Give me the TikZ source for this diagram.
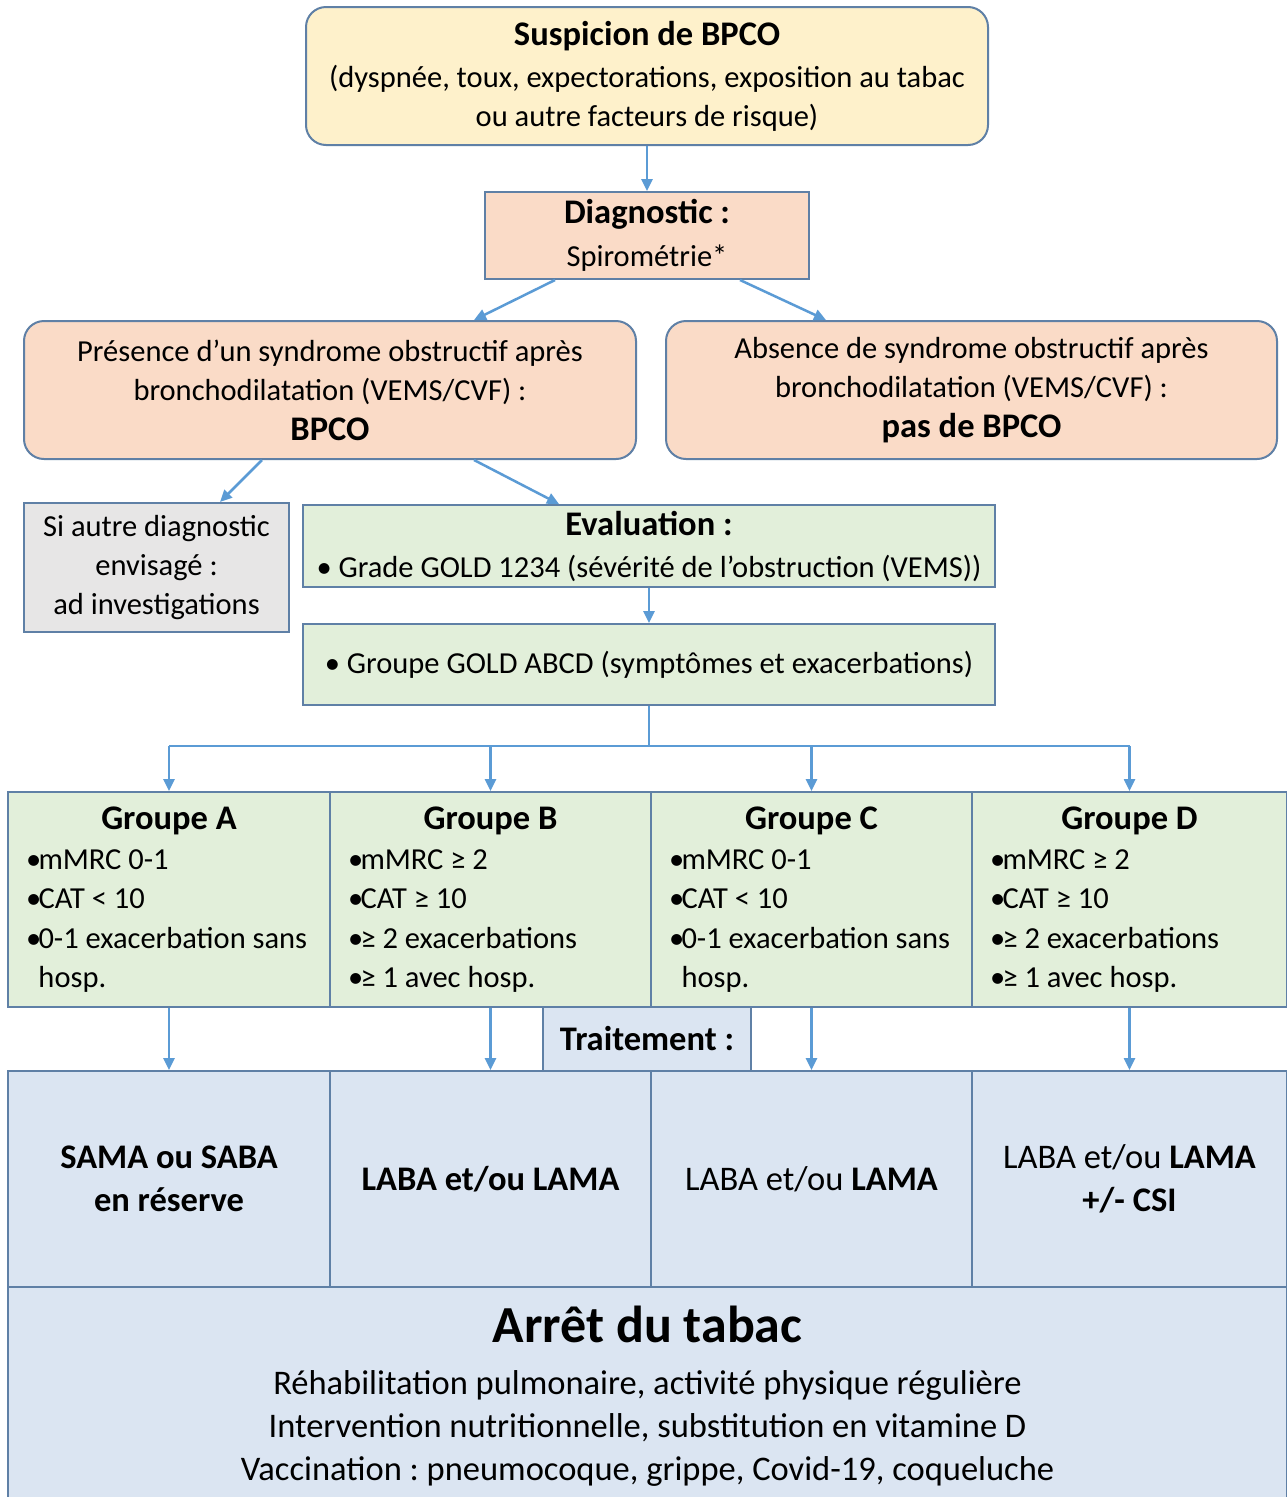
\documentclass[tikz,border=0pt]{standalone}
\usepackage{fontspec}
\setmainfont{Carlito}
\usetikzlibrary{arrows.meta}
\frenchspacing
\definecolor{bordc}{HTML}{5F80A6}
\definecolor{arrc}{HTML}{5B9BD5}
\definecolor{yel}{HTML}{FEF1CB}
\definecolor{pch}{HTML}{FADBC7}
\definecolor{gry}{HTML}{E7E6E6}
\definecolor{grn}{HTML}{E2EFDA}
\definecolor{blu}{HTML}{DBE5F2}
\newcommand\tsize{\fontsize{34.5}{40}\selectfont\bfseries}
\newcommand\gtitle[2]{\spaceskip=0pt\xspaceskip=0pt\makebox[#1][c]{\tsize #2}\\[1pt]}
\newcommand\gb{\makebox[12.5pt][l]{•}}
\newcommand\gh{\hspace*{12.5pt}}
\tikzset{
  box/.style={draw=bordc, line width=2pt, inner sep=0pt, align=center,
    font=\fontsize{30.5}{39}\selectfont},
  rbox/.style={box, rounded corners=20pt},
  grp/.style={draw=bordc, line width=2pt, inner sep=0pt, fill=grn, align=flush left,
    minimum width=#1, minimum height=215pt, text width=#1-36pt,
    font=\fontsize{30.5}{39.3}\selectfont},
  trt/.style={draw=bordc, line width=2pt, inner sep=0pt, fill=blu, align=center,
    minimum width=#1, minimum height=216pt, font=\fontsize{34.5}{43}\selectfont},
  arr/.style={draw=arrc, line width=2.5pt, -{Triangle[width=11pt,length=12pt]}},
  ln/.style={draw=arrc, line width=2.5pt}
}
\begin{document}
\begin{tikzpicture}[x=1pt,y=-1pt]
\useasboundingbox (0,0) rectangle (1287,1497);
\fill[white] (0,0) rectangle (1287,1497);

\node[rbox, fill=yel, minimum width=682pt, minimum height=138pt] (sus) at (647,76)
  {{\tsize Suspicion de BPCO}\\[3pt](dyspnée, toux, expectorations, exposition au tabac\\ou autre facteurs de risque)};
\node[box, fill=pch, minimum width=324pt, minimum height=87pt, font=\fontsize{30.5}{43}\selectfont] (diag) at (647,235.5)
  {{\tsize Diagnostic :}\\Spirométrie*};
\node[rbox, fill=pch, minimum width=612pt, minimum height=138pt] (pres) at (330,390)
  {Présence d’un syndrome obstructif après\\bronchodilatation (VEMS/CVF) :\\[1pt]{\tsize BPCO}};
\node[rbox, fill=pch, minimum width=611pt, minimum height=138pt] (abs) at (971.5,390)
  {Absence de syndrome obstructif après\\bronchodilatation (VEMS/CVF) :\\[1pt]{\tsize pas de BPCO}};
\node[box, fill=gry, minimum width=265pt, minimum height=129pt] (autre) at (156.5,567.5)
  {Si autre diagnostic\\envisagé :\\ad investigations};
\node[box, fill=grn, minimum width=692pt, minimum height=82pt, font=\fontsize{30.5}{42}\selectfont] (eval) at (649,546)
  {{\tsize Evaluation :}\\• Grade GOLD 1234 (sévérité de l’obstruction (VEMS))};
\node[box, fill=grn, minimum width=692pt, minimum height=81pt] (gold) at (649,664.5)
  {• Groupe GOLD ABCD (symptômes et exacerbations)};

\node[grp=322pt] (gA) at (169,899.5)
  {\gtitle{286pt}{Groupe A}\gb mMRC 0-1\\\gb CAT < 10\\\gb \mbox{0-1 exacerbation sans}\\\gh hosp.};
\node[grp=321pt] (gB) at (490.5,899.5)
  {\gtitle{285pt}{Groupe B}\gb mMRC ≥ 2\\\gb CAT ≥ 10\\\gb ≥ 2 exacerbations\\\gb ≥ 1 avec hosp.};
\node[grp=321pt] (gC) at (811.5,899.5)
  {\gtitle{285pt}{Groupe C}\gb mMRC 0-1\\\gb CAT < 10\\\gb \mbox{0-1 exacerbation sans}\\\gh hosp.};
\node[grp=315pt] (gD) at (1129.5,899.5)
  {\gtitle{279pt}{Groupe D}\gb mMRC ≥ 2\\\gb CAT ≥ 10\\\gb ≥ 2 exacerbations\\\gb ≥ 1 avec hosp.};

\node[trt=322pt] (tA) at (169,1179) {\textbf{SAMA ou SABA}\\\textbf{en réserve}};
\node[trt=321pt] (tB) at (490.5,1179) {\textbf{LABA et/ou LAMA}};
\node[trt=321pt] (tC) at (811.5,1179) {LABA et/ou \textbf{LAMA}};
\node[trt=315pt] (tD) at (1129.5,1179) {LABA et/ou \textbf{LAMA}\\\textbf{+/- CSI}};

\node[box, fill=blu, minimum width=208pt, minimum height=64pt] (trait) at (647,1039) {\tsize Traitement :};

\node[box, fill=blu, minimum width=1279pt, minimum height=218pt, font=\fontsize{34.5}{43}\selectfont] (arret) at (647.5,1396)
  {{\fontsize{52}{56}\selectfont\bfseries Arrêt du tabac}\\[9pt]Réhabilitation pulmonaire, activité physique régulière\\Intervention nutritionnelle, substitution en vitamine D\\Vaccination : pneumocoque, grippe, Covid-19, coqueluche};

% connectors
\draw[arr] (sus.south) -- (diag.north);
\draw[arr] ([xshift=-92pt]diag.south) -- ([xshift=144pt]pres.north);
\draw[arr] ([xshift=93pt]diag.south) -- ([xshift=-145.5pt]abs.north);
\draw[arr] ([xshift=-68pt]pres.south) -- ([xshift=63.5pt]autre.north);
\draw[arr] ([xshift=144pt]pres.south) -- ([xshift=-90pt]eval.north);
\draw[arr] (eval.south) -- (gold.north);
\coordinate (bus) at (649,746);
\draw[ln] (gold.south) -- (bus);
\draw[ln] (bus -| gA.north) -- (bus -| gD.north);
\foreach \g in {gA,gB,gC,gD} {\draw[arr] (bus -| \g.north) -- (\g.north);}
\draw[arr] (gA.south) -- (tA.north);
\draw[arr] (gB.south) -- (tB.north);
\draw[arr] (gC.south) -- (tC.north);
\draw[arr] (gD.south) -- (tD.north);
\end{tikzpicture}
\end{document}
